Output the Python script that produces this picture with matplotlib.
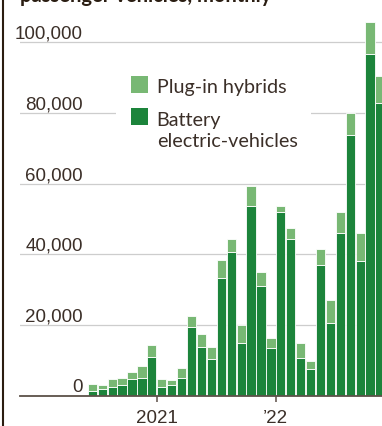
import numpy as np
import matplotlib
matplotlib.use("Agg")
import matplotlib.pyplot as plt
import matplotlib.transforms as mtransforms
from matplotlib.patches import Rectangle
from matplotlib.lines import Line2D

# monthly sales, June 2020 .. November 2022
months = ["2020-06", "2020-07", "2020-08", "2020-09", "2020-10", "2020-11", "2020-12",
          "2021-01", "2021-02", "2021-03", "2021-04", "2021-05", "2021-06", "2021-07",
          "2021-08", "2021-09", "2021-10", "2021-11", "2021-12",
          "2022-01", "2022-02", "2022-03", "2022-04", "2022-05", "2022-06", "2022-07",
          "2022-08", "2022-09", "2022-10", "2022-11"]
bev = [1200, 1700, 2300, 2900, 4700, 5000, 11000,
       2500, 3100, 4900, 19400, 13700, 10400, 33300,
       40500, 14900, 53600, 31100, 13400,
       51900, 44400, 10600, 7400, 36900, 20500, 45900,
       73700, 38100, 96600, 82700]
phev = [2100, 1300, 2300, 2100, 2000, 3400, 3200,
        2200, 1300, 3000, 3000, 3700, 3200, 5100,
        3900, 5000, 5800, 3900, 2800,
        1800, 3000, 4300, 2300, 4700, 6500, 6000,
        6300, 7800, 9000, 7800]

y_ticks = [0, 20000, 40000, 60000, 80000, 100000]
y_labels = ["0", "20,000", "40,000", "60,000", "80,000", "100,000"]
x_tick_months = ["2021-01", "2022-01"]
x_tick_labels = ["2021", "\u201922"]

title = "passenger vehicles, monthly"
legend_lines = [["Plug-in hybrids"], ["Battery", "electric-vehicles"]]

DARK = "#1c843b"
LIGHT = "#78b874"
GRID = "#cdcdcd"
AXIS = "#5c5048"
TEXT = "#3b2f28"

NUM_FONT = ["Liberation Sans", "DejaVu Sans"]
TXT_FONT = ["Lato", "DejaVu Sans"]

W, H = 382, 427


def fx(px):
    return px / W


def fy(py):
    return 1 - py / H


fig = plt.figure(figsize=(W / 100, H / 100), dpi=100)
fig.patch.set_facecolor("white")
ax = fig.add_axes([fx(20), 30.5 / H, 1 - fx(20), 1 - 30.5 / H])

x = np.arange(len(months))
ax.bar(x, bev, width=0.93, color=DARK, edgecolor="white", linewidth=0.6, zorder=3)
ax.bar(x, phev, bottom=bev, width=0.93, color=LIGHT, edgecolor="white", linewidth=0.6, zorder=3)

ax.set_xlim(-7.29, 29.2)
ax.set_ylim(0, 112250)

# gridlines + labels sitting on top of them
lab_tr = mtransforms.offset_copy(ax.get_yaxis_transform(), fig=fig, y=4.5, units="dots")
for v, lab in zip(y_ticks, y_labels):
    if v > 0:
        ax.axhline(v, color=GRID, lw=0.9, zorder=1)
    ax.text((83 - 20) / (W - 20), v, lab, transform=lab_tr, ha="right", va="baseline",
            fontsize=13.5, family=NUM_FONT, color=TEXT)
ax.axhline(0, color=AXIS, lw=1.3, zorder=4, clip_on=False)

tick_pos = [months.index(m) - 0.5 for m in x_tick_months]
ax.set_xticks(tick_pos)
ax.set_xticklabels(x_tick_labels, family=NUM_FONT, fontsize=13.5, color=TEXT)
ax.tick_params(axis="x", length=4.5, width=1.1, color=AXIS, pad=5.5)
ax.set_yticks([])
for s in ax.spines.values():
    s.set_visible(False)

# legend drawn by hand, white box knocks out the gridline behind it
fig.add_artist(Rectangle((fx(116), fy(152)), fx(311) - fx(116), fy(68) - fy(152),
                         transform=fig.transFigure, facecolor="white", edgecolor="none", zorder=2))
for i, (col, lines) in enumerate(zip([LIGHT, DARK], legend_lines)):
    top = [76.7, 109][i]
    fig.add_artist(Rectangle((fx(130.7), fy(top + 17)), fx(17.3), 17 / H,
                             transform=fig.transFigure, facecolor=col, edgecolor="none", zorder=3))
    base = [93.3, 125.7][i]
    for j, line in enumerate(lines):
        fig.text(fx(156.7), fy(base + j * 21.6), line, ha="left", va="baseline",
                 fontsize=14.2, family=TXT_FONT, color=TEXT, zorder=3)

# title, mostly above the top edge
fig.text(fx(20), fy(1.5), title, ha="left", va="baseline", fontsize=14.5,
         family=TXT_FONT, weight="bold", color="#2a1d12")

# dark rule down the left edge
fig.add_artist(Line2D([fx(3), fx(3)], [0, 1], transform=fig.transFigure,
                      color="#2b1d10", lw=1.5))

fig.savefig("out.png", dpi=100, facecolor="white")
